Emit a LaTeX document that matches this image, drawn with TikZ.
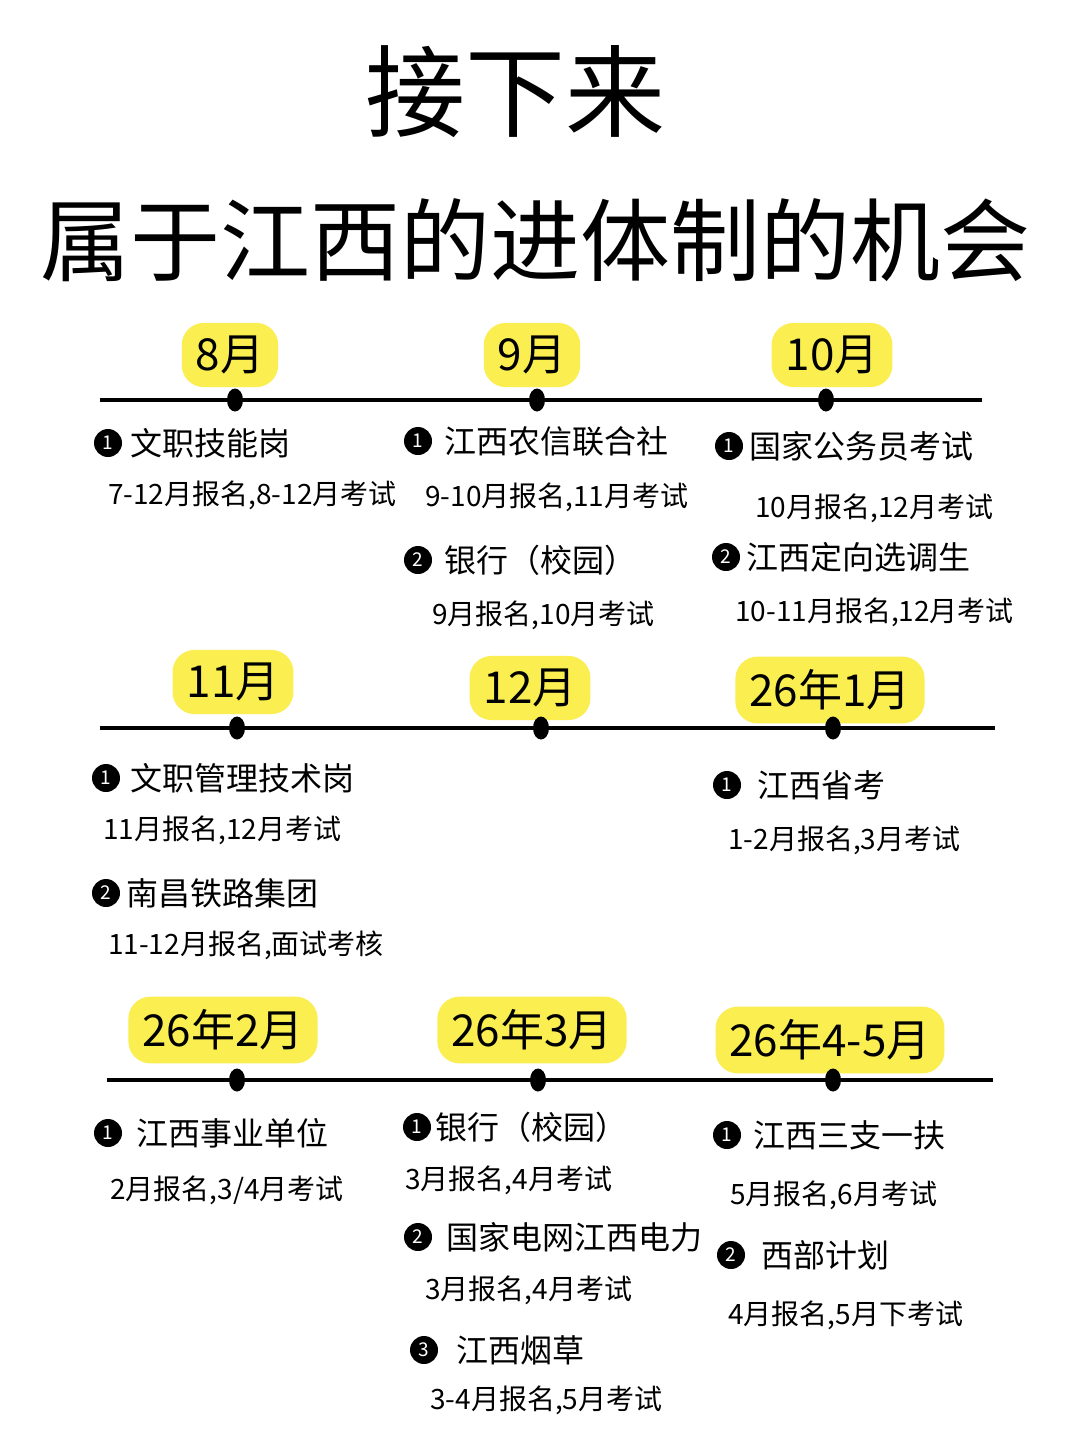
\documentclass[tikz,border=0pt]{standalone}
\usepackage{fontspec}
\setmainfont{Noto Sans CJK SC}
\usepackage{tikz}
\usetikzlibrary{positioning,shapes.geometric}
\usepackage{xcolor}
\definecolor{hlyellow}{RGB}{250,238,80}
\newcommand{\cnsize}[1]{\fontsize{#1}{#1}\selectfont}

\begin{document}
\begin{tikzpicture}[x=1pt,y=-1pt,
  mtag/.style={rectangle,rounded corners=22pt,fill=hlyellow,inner xsep=14pt,inner ysep=13pt,font=\cnsize{44}},
  tline/.style={line width=3.5pt,black},
  tdot/.style={ellipse,fill=black,minimum width=16pt,minimum height=23pt,inner sep=0pt},
  nbul/.style={circle,fill=black,text=white,inner sep=0pt,minimum size=28pt,font=\cnsize{19}},
  itm/.style={anchor=west,inner sep=0pt,font=\cnsize{32}},
  subl/.style={anchor=west,inner sep=0pt,font=\cnsize{28}}
]
\useasboundingbox (0,0) rectangle (1080,1440);
\fill[white] (0,0) rectangle (1080,1440);

% title
\node[font=\cnsize{100}] (head) at (515,92) {接下来};
\node[font=\cnsize{90}] (title) at (535,240) {属于江西的进体制的机会};

% month tags (under the lines)
\node[mtag] (maug) at (230,355) {8月};
\node[mtag] (msep) at (532,355) {9月};
\node[mtag] (moct) at (832,355) {10月};
\node[mtag] (mnov) at (233,682) {11月};
\node[mtag] (mdec) at (530,688) {12月};
\node[mtag] (mjan) at (830,690) {26年1月};
\node[mtag] (mfeb) at (223,1030) {26年2月};
\node[mtag] (mmar) at (532,1030) {26年3月};
\node[mtag] (mapr) at (830,1040) {26年4-5月};

% three timelines
\coordinate (l1) at (100,400);  \coordinate (r1) at (982,400);
\coordinate (l2) at (100,728);  \coordinate (r2) at (995,728);
\coordinate (l3) at (107,1080); \coordinate (r3) at (993,1080);
\draw[tline] (l1) -- (r1);
\draw[tline] (l2) -- (r2);
\draw[tline] (l3) -- (r3);

\node[tdot] (daug) at (235,400) {};
\node[tdot] (dsep) at (537,400) {};
\node[tdot] (doct) at (826,400) {};
\node[tdot] (dnov) at (237,728) {};
\node[tdot] (ddec) at (541,728) {};
\node[tdot] (djan) at (833,728) {};
\node[tdot] (dfeb) at (237,1080) {};
\node[tdot] (dmar) at (538,1080) {};
\node[tdot] (dapr) at (833,1080) {};

% 8月
\node[nbul] (baug1) at (108,443) {1};
\node[itm,right=8pt of baug1] (taug1) {文职技能岗};
\node[subl] (saug1) at (108,495) {7-12月报名,8-12月考试};

% 9月
\node[nbul] (bsep1) at (418,441) {1};
\node[itm,right=12pt of bsep1] (tsep1) {江西农信联合社};
\node[subl] (ssep1) at (425,497) {9-10月报名,11月考试};
\node[nbul] (bsep2) at (418,560) {2};
\node[itm,right=12pt of bsep2] (tsep2) {银行（校园）};
\node[subl] (ssep2) at (432,615) {9月报名,10月考试};

% 10月
\node[nbul] (boct1) at (729,446) {1};
\node[itm,right=6pt of boct1] (toct1) {国家公务员考试};
\node[subl] (soct1) at (755,508) {10月报名,12月考试};
\node[nbul] (boct2) at (726,557) {2};
\node[itm,right=6pt of boct2] (toct2) {江西定向选调生};
\node[subl] (soct2) at (735,612) {10-11月报名,12月考试};

% 11月
\node[nbul] (bnov1) at (106,778) {1};
\node[itm,right=10pt of bnov1] (tnov1) {文职管理技术岗};
\node[subl] (snov1) at (103,830) {11月报名,12月考试};
\node[nbul] (bnov2) at (106,893) {2};
\node[itm,right=6pt of bnov2] (tnov2) {南昌铁路集团};
\node[subl] (snov2) at (108,945) {11-12月报名,面试考核};

% 26年1月
\node[nbul] (bjan1) at (727,785) {1};
\node[itm,right=16pt of bjan1] (tjan1) {江西省考};
\node[subl] (sjan1) at (728,840) {1-2月报名,3月考试};

% 26年2月
\node[nbul] (bfeb1) at (108,1133) {1};
\node[itm,right=14pt of bfeb1] (tfeb1) {江西事业单位};
\node[subl] (sfeb1) at (110,1190) {2月报名,3/4月考试};

% 26年3月
\node[nbul] (bmar1) at (417,1127) {1};
\node[itm,right=4pt of bmar1] (tmar1) {银行（校园）};
\node[subl] (smar1) at (405,1180) {3月报名,4月考试};
\node[nbul] (bmar2) at (418,1237) {2};
\node[itm,right=14pt of bmar2] (tmar2) {国家电网江西电力};
\node[subl] (smar2) at (425,1290) {3月报名,4月考试};
\node[nbul] (bmar3) at (424,1350) {3};
\node[itm,right=18pt of bmar3] (tmar3) {江西烟草};
\node[subl] (smar3) at (430,1400) {3-4月报名,5月考试};

% 26年4-5月
\node[nbul] (bapr1) at (727,1135) {1};
\node[itm,right=12pt of bapr1] (tapr1) {江西三支一扶};
\node[subl] (sapr1) at (730,1195) {5月报名,6月考试};
\node[nbul] (bapr2) at (731,1255) {2};
\node[itm,right=16pt of bapr2] (tapr2) {西部计划};
\node[subl] (sapr2) at (728,1315) {4月报名,5月下考试};
\end{tikzpicture}
\end{document}
